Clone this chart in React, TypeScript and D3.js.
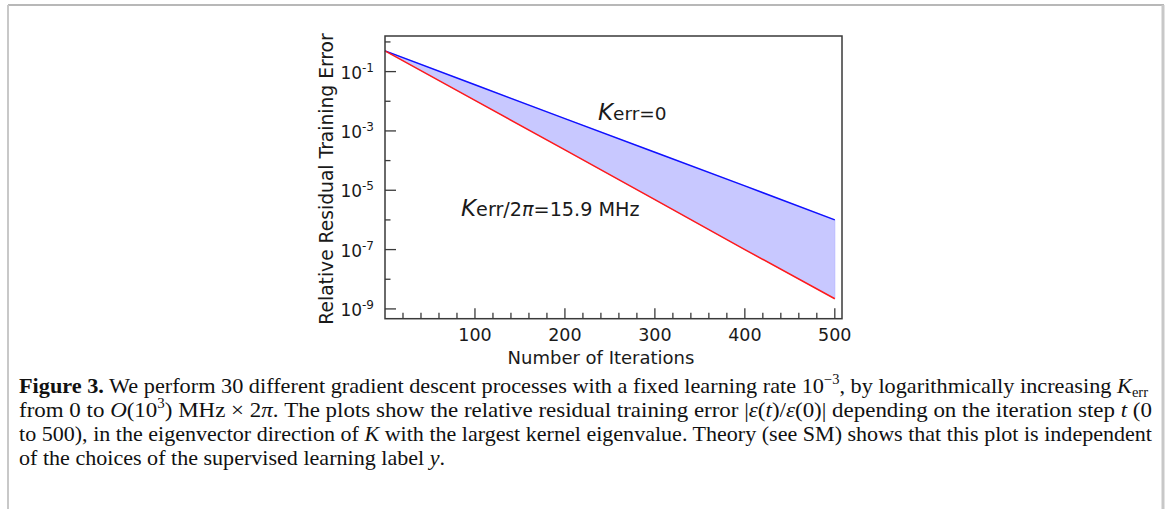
import React from "react";
import * as d3 from "d3";

const iterations = [0, 100, 200, 300, 400, 500];
const errKappaZero = [0.5, 3.6e-2, 2.6e-3, 1.9e-4, 1.4e-5, 1.0e-6];
const errKappa159 = [0.5, 1.07e-2, 2.3e-4, 4.8e-6, 1.0e-7, 2.2e-9];
const yMajorExps = [-1, -3, -5, -7, -9];
const yMinorExps = [0, -2, -4, -6, -8];
const xMajorTicks = [100, 200, 300, 400, 500];
const xMinorTicks = [20, 40, 60, 80, 120, 140, 160, 180, 220, 240, 260, 280, 320, 340, 360, 380, 420, 440, 460, 480];

const W = 1170;
const H = 509;
const L = 385, R = 842, T = 36, B = 318.7;

const x = d3.scaleLinear().domain([0, 508]).range([L, R]);
const y = d3.scaleLog().domain([Math.pow(10, 0.2), Math.pow(10, -9.33)]).range([T, B]);

const SANS = "'DejaVu Sans', Verdana, sans-serif";
const SERIF = "'Liberation Serif', 'Times New Roman', serif";

export default function App() {
  const pts = iterations.map((t, i) => ({ t, a: errKappaZero[i], b: errKappa159[i] }));
  const area = d3.area<any>().x((d) => x(d.t)).y0((d) => y(d.b)).y1((d) => y(d.a))(pts) || "";
  const lineA = d3.line<any>().x((d) => x(d.t)).y((d) => y(d.a))(pts) || "";
  const lineB = d3.line<any>().x((d) => x(d.t)).y((d) => y(d.b))(pts) || "";
  const axisColor = "#3a3a3a";
  const capX = 19;
  const capW = 1133;
  const capFS = 21.5;
  const supFS = 14;
  return (
    <svg width={W} height={H} style={{ position: "absolute", left: 0, top: 0 }}>
      <rect x={0} y={0} width={W} height={H} fill="#fff" />
      {/* page card border */}
      <line x1={8} x2={1164} y1={5} y2={5} stroke="#a0a0a0" strokeWidth={1.5} />
      <line x1={8} x2={8} y1={5} y2={H} stroke="#c8c8c8" strokeWidth={2} />
      <line x1={1163} x2={1163} y1={5} y2={H} stroke="#c8c8c8" strokeWidth={3} />

      {/* plot */}
      <path d={area} fill="#c8c8ff" stroke="#b4b4ff" strokeWidth={0.8} />
      <path d={lineA} fill="none" stroke="#1010ff" strokeWidth={1.5} />
      <path d={lineB} fill="none" stroke="#ff1a1a" strokeWidth={1.5} />
      <rect x={L} y={T} width={R - L} height={B - T} fill="none" stroke={axisColor} strokeWidth={1.5} />
      {yMajorExps.map((e) => (
        <g key={"ym" + e}>
          <line x1={L} x2={L + 11} y1={y(Math.pow(10, e))} y2={y(Math.pow(10, e))} stroke={axisColor} strokeWidth={1.3} />
          <text x={374} y={y(Math.pow(10, e)) + 7} textAnchor="end" fontFamily={SANS} fontSize={17} fill="#1a1a1a">
            10<tspan fontSize={12} dy={-7}>{"-" + Math.abs(e)}</tspan>
          </text>
        </g>
      ))}
      {yMinorExps.map((e) => (
        <line key={"yn" + e} x1={L} x2={L + 5.5} y1={y(Math.pow(10, e))} y2={y(Math.pow(10, e))} stroke={axisColor} strokeWidth={1.3} />
      ))}
      {xMajorTicks.map((t) => (
        <g key={"xm" + t}>
          <line x1={x(t)} x2={x(t)} y1={B} y2={B - 10.5} stroke={axisColor} strokeWidth={1.3} />
          <text x={x(t)} y={341} textAnchor="middle" fontFamily={SANS} fontSize={17.5} fill="#1a1a1a">{t}</text>
        </g>
      ))}
      {xMinorTicks.map((t) => (
        <line key={"xn" + t} x1={x(t)} x2={x(t)} y1={B} y2={B - 6} stroke={axisColor} strokeWidth={1.3} />
      ))}
      <text x={601} y={364} textAnchor="middle" fontFamily={SANS} fontSize={18} fill="#1a1a1a">Number of Iterations</text>
      <text transform="translate(333,179) rotate(-90)" textAnchor="middle" fontFamily={SANS} fontSize={18.7} fill="#1a1a1a">
        Relative Residual Training Error
      </text>
      <text x={598} y={120} fontFamily={SANS} fontSize={18.5} fill="#1a1a1a">
        <tspan fontStyle="italic" fontSize={23}>K</tspan>
        <tspan>err=0</tspan>
      </text>
      <text x={461} y={216} fontFamily={SANS} fontSize={19.2} fill="#1a1a1a">
        <tspan fontStyle="italic" fontSize={23}>K</tspan>
        <tspan>err/2</tspan>
        <tspan fontStyle="italic">π</tspan>
        <tspan>=15.9 MHz</tspan>
      </text>

      {/* caption */}
      <g fontFamily={SERIF} fontSize={capFS} fill="#111">
        <text x={capX} y={393} textLength={capW - 4} lengthAdjust="spacingAndGlyphs">
          <tspan fontWeight="bold">Figure 3.</tspan>
          <tspan> We perform 30 different gradient descent processes with a fixed learning rate 10</tspan>
          <tspan fontSize={supFS} dy={-9}>−3</tspan>
          <tspan dy={9}>, by logarithmically increasing </tspan>
          <tspan fontStyle="italic">K</tspan>
          <tspan fontSize={supFS} dy={4}>err</tspan>
        </text>
        <text x={capX} y={417} textLength={capW} lengthAdjust="spacingAndGlyphs">
          <tspan>from 0 to </tspan>
          <tspan fontStyle="italic">O</tspan>
          <tspan>(10</tspan>
          <tspan fontSize={supFS} dy={-9}>3</tspan>
          <tspan dy={9}>) MHz × 2</tspan>
          <tspan fontStyle="italic">π</tspan>
          <tspan>. The plots show the relative residual training error |</tspan>
          <tspan fontStyle="italic">ε</tspan>
          <tspan>(</tspan>
          <tspan fontStyle="italic">t</tspan>
          <tspan>)/</tspan>
          <tspan fontStyle="italic">ε</tspan>
          <tspan>(0)| depending on the iteration step </tspan>
          <tspan fontStyle="italic">t</tspan>
          <tspan> (0</tspan>
        </text>
        <text x={capX} y={441} textLength={capW} lengthAdjust="spacingAndGlyphs">
          <tspan>to 500), in the eigenvector direction of </tspan>
          <tspan fontStyle="italic">K</tspan>
          <tspan> with the largest kernel eigenvalue. Theory (see SM) shows that this plot is independent</tspan>
        </text>
        <text x={capX} y={465} textLength={426} lengthAdjust="spacingAndGlyphs">
          <tspan>of the choices of the supervised learning label </tspan>
          <tspan fontStyle="italic">y</tspan>
          <tspan>.</tspan>
        </text>
      </g>
    </svg>
  );
}
